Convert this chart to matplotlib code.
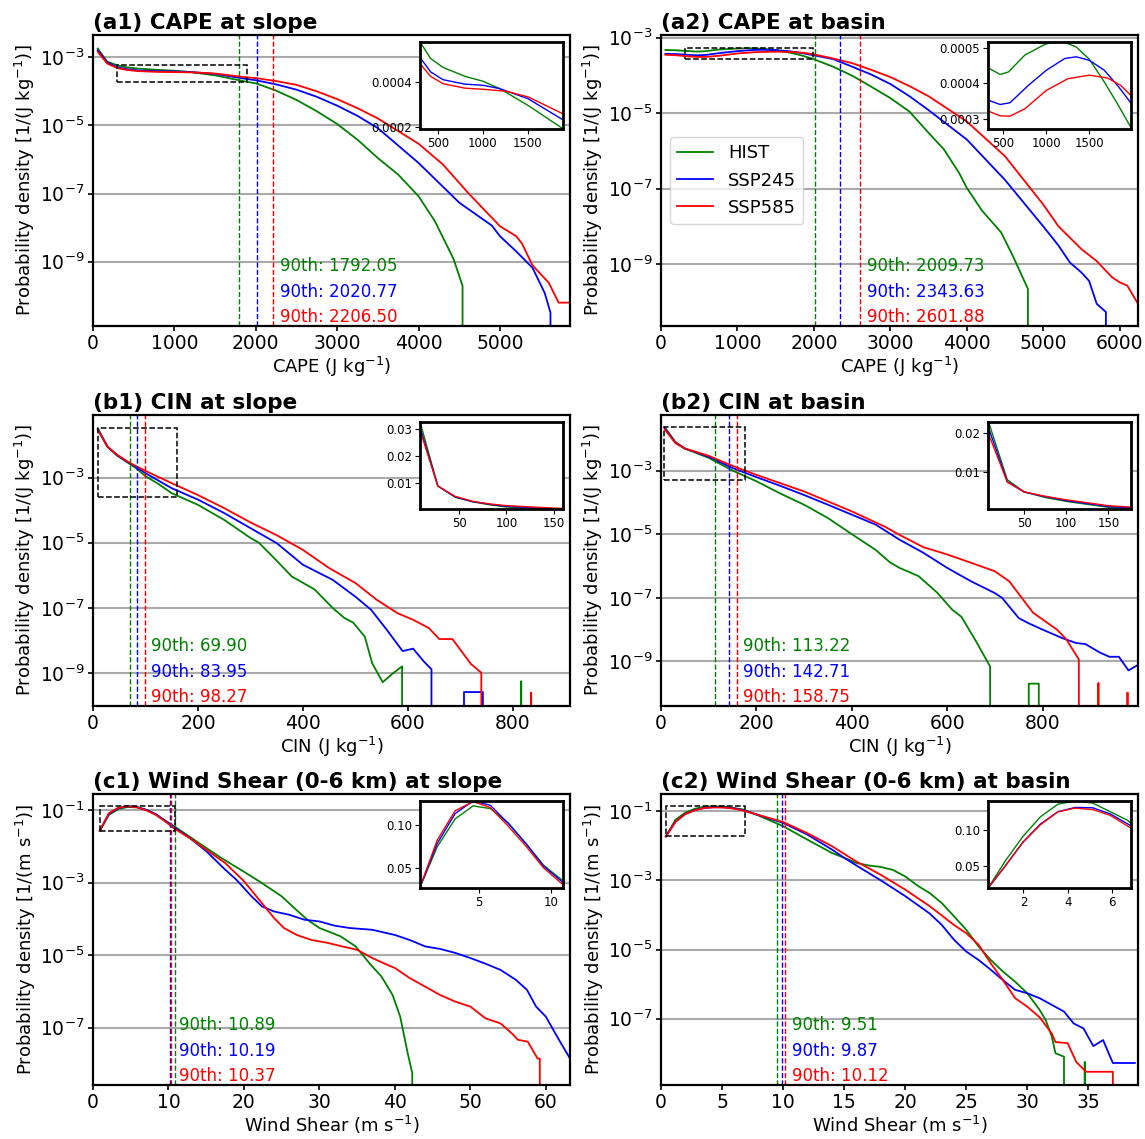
import numpy as np
import matplotlib
matplotlib.use("Agg")
import matplotlib.pyplot as plt
from matplotlib.patches import Rectangle
from matplotlib.ticker import NullLocator
from mpl_toolkits.axes_grid1.inset_locator import inset_axes

# ---------------- data ----------------
labels = ["HIST", "SSP245", "SSP585"]
colors = ["green", "blue", "red"]

# (a1) CAPE at slope
a1_x_hist = [58, 175, 300, 418, 556, 800, 1000, 1186, 1500, 1890, 2000, 2250, 2500, 2750, 3000, 3250, 3500, 3750, 4000, 4200, 4430, 4540, 4600]
a1_y_hist = [1.8e-3, 7.4e-4, 5.8e-4, 5.05e-4, 4.65e-4, 4.25e-4, 4.03e-4, 3.7e-4, 2.95e-4, 1.9e-4, 1.72e-4, 1.05e-4, 5.6e-5, 2.6e-5, 1.1e-5, 3.8e-6, 1.1e-6, 3.6e-7, 8.3e-8, 1.55e-8, 1.2e-9, 1.95e-10, 0]
a1_x_245 = [58, 175, 300, 418, 556, 800, 1000, 1186, 1500, 1890, 2000, 2250, 2500, 2750, 3000, 3250, 3500, 4000, 4500, 4900, 5000, 5200, 5400, 5550, 5620, 5680]
a1_y_245 = [1.6e-3, 7.0e-4, 5.1e-4, 4.45e-4, 4.1e-4, 3.9e-4, 3.85e-4, 3.7e-4, 3.25e-4, 2.3e-4, 2.12e-4, 1.6e-4, 1.12e-4, 6.9e-5, 3.8e-5, 1.9e-5, 8.3e-6, 7.9e-7, 5.4e-8, 1.15e-8, 5.6e-9, 2.0e-9, 6.6e-10, 1.2e-10, 3.2e-11, 0]
a1_x_585 = [58, 175, 300, 418, 556, 800, 1000, 1260, 1500, 1890, 2000, 2250, 2500, 2750, 3000, 3250, 3500, 4000, 4300, 4600, 5000, 5200, 5270, 5400, 5600, 5720, 5860]
a1_y_585 = [1.45e-3, 6.5e-4, 4.82e-4, 4.25e-4, 3.92e-4, 3.72e-4, 3.67e-4, 3.58e-4, 3.33e-4, 2.57e-4, 2.45e-4, 2.0e-4, 1.55e-4, 1.0e-4, 5.9e-5, 3.2e-5, 1.6e-5, 2.9e-6, 7.1e-7, 1.1e-7, 1.1e-8, 5.6e-9, 3.4e-9, 7.8e-10, 2.4e-10, 6.3e-11, 6.3e-11]
a1_p90 = [1792.05, 2020.77, 2206.50]

# (a2) CAPE at basin
a2_x_hist = [58, 200, 327, 462, 558, 750, 981, 1150, 1346, 1500, 1673, 1827, 1981, 2250, 2500, 2750, 3000, 3250, 3500, 3700, 3900, 4000, 4200, 4450, 4600, 4800, 4830]
a2_y_hist = [4.7e-4, 4.6e-4, 4.43e-4, 4.25e-4, 4.32e-4, 4.8e-4, 5.1e-4, 5.22e-4, 5.03e-4, 4.68e-4, 4.04e-4, 3.42e-4, 2.76e-4, 1.7e-4, 9.8e-5, 5.0e-5, 2.5e-5, 1.1e-5, 3.0e-6, 1.1e-6, 2.6e-7, 1.05e-7, 2.6e-8, 6.9e-9, 1.7e-9, 2.2e-10, 0]
a2_x_245 = [58, 200, 327, 462, 577, 789, 1000, 1212, 1346, 1500, 1673, 1827, 1981, 2250, 2500, 2750, 3000, 3250, 3500, 4000, 4500, 5000, 5100, 5200, 5350, 5500, 5600, 5700, 5820, 5840]
a2_y_245 = [3.7e-4, 3.65e-4, 3.52e-4, 3.4e-4, 3.45e-4, 3.94e-4, 4.37e-4, 4.7e-4, 4.75e-4, 4.65e-4, 4.37e-4, 3.94e-4, 3.45e-4, 2.7e-4, 1.7e-4, 1.05e-4, 5.9e-5, 2.8e-5, 1.2e-5, 2.0e-6, 1.7e-7, 1.0e-8, 5.6e-9, 3.1e-9, 1.1e-9, 6.0e-10, 3.6e-10, 8.9e-11, 5.4e-11, 0]
a2_x_585 = [58, 200, 327, 462, 577, 750, 1000, 1250, 1500, 1711, 1865, 1981, 2250, 2500, 2750, 3000, 3250, 3500, 4000, 4500, 5000, 5200, 5500, 5700, 5900, 6000, 6100, 6240]
a2_y_585 = [3.5e-4, 3.4e-4, 3.21e-4, 3.08e-4, 3.07e-4, 3.28e-4, 3.8e-4, 4.13e-4, 4.23e-4, 4.15e-4, 3.94e-4, 3.66e-4, 2.8e-4, 2.1e-4, 1.4e-4, 9.0e-5, 5.2e-5, 2.8e-5, 6.0e-6, 7.2e-7, 3.8e-8, 1.0e-8, 2.5e-9, 1.2e-9, 4.5e-10, 3.3e-10, 2.7e-10, 8.9e-11]
a2_p90 = [2009.73, 2343.63, 2601.88]

# (b1) CIN at slope
b1_x_hist = [9.2, 27.6, 46, 64.3, 82.6, 100, 125, 150, 200, 250, 300, 316, 350, 379, 422, 457, 479, 496, 518, 532, 552, 570, 589, 607, 798, 816, 835]
b1_y_hist = [0.032, 0.0089, 0.0047, 0.003, 0.0019, 1.1e-3, 6.3e-4, 3.3e-4, 1.45e-4, 5.0e-5, 1.4e-5, 1.0e-5, 2.8e-6, 9.1e-7, 3.7e-7, 9.8e-8, 4.9e-8, 3.5e-8, 1.3e-8, 2.0e-9, 5.2e-10, 9.3e-10, 1.6e-9, 0, 0, 5.6e-10, 0]
b1_x_245 = [9.2, 27.6, 46, 64.3, 82.6, 100, 150, 200, 250, 300, 350, 400, 457, 500, 530, 560, 590, 610, 630, 645, 652, 688, 707, 725, 743, 762]
b1_y_245 = [0.030, 0.0088, 0.0048, 0.0031, 0.0021, 1.36e-3, 4.7e-4, 2.1e-4, 8.1e-5, 2.8e-5, 9.7e-6, 2.1e-6, 7.2e-7, 2.2e-7, 8.7e-8, 2.1e-8, 4.7e-9, 5.6e-9, 2.3e-9, 1.3e-9, 0, 0, 2.6e-10, 2.6e-10, 2.6e-10, 0]
b1_x_585 = [9.2, 27.6, 46, 64.3, 82.6, 100, 150, 200, 250, 300, 350, 400, 450, 500, 540, 580, 610, 640, 660, 685, 720, 740, 744, 817, 835, 854, 890, 909]
b1_y_585 = [0.029, 0.0088, 0.005, 0.0032, 0.0022, 1.6e-3, 6.7e-4, 2.9e-4, 1.15e-4, 4.2e-5, 1.7e-5, 6.0e-6, 1.66e-6, 5.8e-7, 1.8e-7, 6.9e-8, 4.3e-8, 2.4e-8, 1.1e-8, 1.1e-8, 1.9e-9, 1.02e-9, 0, 0, 2.5e-10, 0, 0, 2.5e-10]
b1_p90 = [69.90, 83.95, 98.27]

# (b2) CIN at basin
b2_x_hist = [8, 30, 50, 75, 100, 150, 200, 250, 300, 350, 400, 450, 480, 500, 540, 580, 610, 630, 660, 690, 711, 750, 771, 792, 813]
b2_y_hist = [0.0225, 0.008, 0.0049, 0.0035, 0.0025, 1.0e-3, 4.6e-4, 1.9e-4, 8.4e-5, 3.2e-5, 1.0e-5, 3.2e-6, 1.3e-6, 8.7e-7, 4.8e-7, 1.4e-7, 4.3e-8, 2.5e-8, 4.4e-9, 6.9e-10, 0, 0, 2.0e-10, 2.0e-10, 0]
b2_x_245 = [8, 30, 50, 75, 100, 150, 200, 250, 300, 350, 400, 450, 500, 550, 600, 650, 700, 715, 750, 770, 800, 840, 870, 890, 920, 940, 960, 980, 1000]
b2_y_245 = [0.021, 0.0075, 0.0049, 0.0037, 0.0027, 1.2e-3, 6.2e-4, 3.3e-4, 1.7e-4, 8.4e-5, 4.1e-5, 2.0e-5, 6.7e-6, 2.6e-6, 8.7e-7, 3.3e-7, 1.4e-7, 1.0e-7, 2.3e-8, 1.6e-8, 1.0e-8, 5.5e-9, 3.8e-9, 3.5e-9, 1.9e-9, 1.4e-9, 1.4e-9, 5.2e-10, 7.8e-10]
b2_x_585 = [8, 30, 50, 75, 100, 150, 200, 250, 300, 350, 400, 470, 500, 550, 600, 650, 700, 730, 780, 830, 850, 876, 897, 917, 938, 957, 978, 999]
b2_y_585 = [0.0195, 0.0074, 0.0049, 0.0038, 0.0029, 1.4e-3, 7.3e-4, 4.0e-4, 2.2e-4, 1.07e-4, 5.2e-5, 1.7e-5, 9.5e-6, 3.9e-6, 2.3e-6, 1.26e-6, 6.8e-7, 3.3e-7, 3.4e-8, 1.0e-8, 4.9e-9, 1.15e-9, 0, 2.1e-10, 0, 0, 1.05e-10, 0]
b2_p90 = [113.22, 142.71, 158.75]

# (c1) Wind shear at slope
c1_x_hist = [0.9, 2.1, 3.35, 4.6, 5.8, 7.05, 8.3, 9.5, 10.8, 13, 15, 17, 20, 22, 25, 26.9, 28.4, 30, 32.8, 34.8, 36.8, 38.2, 39.7, 40.7, 41.7, 42.3, 42.4]
c1_y_hist = [0.027, 0.0746, 0.1074, 0.1227, 0.1195, 0.1027, 0.078, 0.0531, 0.0355, 0.0174, 9.1e-3, 4.8e-3, 2.0e-3, 1.1e-3, 4.2e-4, 1.8e-4, 9.5e-5, 5.6e-5, 3.3e-5, 1.74e-5, 5.4e-6, 2.6e-6, 7.9e-7, 2.0e-7, 1.95e-8, 5.5e-9, 0]
c1_x_245 = [0.9, 2.1, 3.35, 4.6, 5.8, 7.05, 8.3, 9.5, 10.8, 13, 15, 17.5, 19, 21, 22.4, 24, 26, 28, 30, 32, 34, 37, 40, 42, 44, 46, 48, 50, 52, 54, 56, 57.5, 58.7, 60, 61.5, 63.2]
c1_y_245 = [0.027, 0.0785, 0.1137, 0.1285, 0.1234, 0.102, 0.078, 0.052, 0.0336, 0.016, 7.4e-3, 2.3e-3, 1.2e-3, 4.2e-4, 2.2e-4, 1.6e-4, 1.3e-4, 9.5e-5, 8.5e-5, 6.5e-5, 5.6e-5, 5.0e-5, 3.6e-5, 2.6e-5, 1.74e-5, 1.48e-5, 1.15e-5, 8.3e-6, 5.8e-6, 3.9e-6, 2.1e-6, 1.1e-6, 3.8e-7, 2.0e-7, 5.6e-8, 1.4e-8]
c1_x_585 = [0.9, 2.1, 3.35, 4.6, 5.8, 7.05, 8.3, 9.5, 10.8, 13, 15, 17.5, 20, 22, 24, 25.3, 27, 29, 31, 33, 35, 37, 39, 40, 42, 44, 46, 48, 50, 52, 54, 55.5, 56.3, 57.6, 58.9, 59.2, 59.4]
c1_y_585 = [0.027, 0.0824, 0.117, 0.1277, 0.1207, 0.0988, 0.075, 0.05, 0.031, 0.016, 8.1e-3, 3.5e-3, 1.1e-3, 3.4e-4, 1.05e-4, 5.6e-5, 3.6e-5, 2.6e-5, 2.2e-5, 1.74e-5, 1.4e-5, 8.3e-6, 5.4e-6, 4.4e-6, 2.3e-6, 1.35e-6, 7.9e-7, 5.2e-7, 3.8e-7, 1.8e-7, 1.3e-7, 6.9e-8, 4.6e-8, 4.1e-8, 1.4e-8, 1.4e-8, 0]
c1_p90 = [10.89, 10.19, 10.37]

# (c2) Wind shear at basin
c2_x_hist = [0.4, 1.19, 1.98, 2.77, 3.56, 4.34, 5.13, 5.92, 6.71, 8, 10, 12, 14, 15, 16, 17, 18, 19, 20, 21, 22, 23, 24, 25, 26, 27, 28, 29, 30, 31, 31.5, 32, 32.3, 33.0, 33.8, 34.7, 35.5]
c2_y_hist = [0.0187, 0.057, 0.0907, 0.118, 0.1355, 0.14, 0.137, 0.125, 0.113, 0.075, 0.037, 0.015, 6.2e-3, 4.5e-3, 3.2e-3, 2.7e-3, 2.45e-3, 2.0e-3, 1.3e-3, 7.1e-4, 4.3e-4, 2.2e-4, 9.1e-5, 3.7e-5, 1.23e-5, 5.0e-6, 2.3e-6, 1.17e-6, 5.4e-7, 1.8e-7, 9.1e-8, 3.0e-8, 1.0e-8, 7.9e-9, 0, 5.6e-9, 0]
c2_x_245 = [0.4, 1.19, 1.98, 2.77, 3.56, 4.34, 5.13, 5.92, 6.71, 10, 12, 14, 15, 16, 18, 20, 22, 23, 24, 25, 26, 27, 28, 29, 30, 31, 32, 33, 33.8, 34.6, 35.4, 36.2, 37.0, 38.8]
c2_y_245 = [0.0187, 0.05, 0.0827, 0.108, 0.125, 0.131, 0.1305, 0.122, 0.108, 0.046, 0.021, 7.8e-3, 4.5e-3, 2.7e-3, 1.0e-3, 3.5e-4, 1.1e-4, 5.1e-5, 1.9e-5, 8.7e-6, 5.0e-6, 2.6e-6, 1.3e-6, 6.8e-7, 5.4e-7, 3.9e-7, 2.5e-7, 1.6e-7, 7.2e-8, 5.2e-8, 1.6e-8, 2.4e-8, 5.2e-9, 5.2e-9]
c2_x_585 = [0.4, 1.19, 1.98, 2.77, 3.56, 4.34, 5.13, 5.92, 6.71, 10, 12, 14, 16, 18, 20, 22, 24, 25, 26, 27, 28, 29, 30, 31, 32, 32.3, 33.3, 34, 34.8, 37.0, 37.8]
c2_y_585 = [0.0187, 0.05, 0.0827, 0.107, 0.125, 0.13, 0.128, 0.12, 0.105, 0.049, 0.023, 9.8e-3, 3.5e-3, 1.45e-3, 5.4e-4, 1.8e-4, 5.1e-5, 2.95e-5, 1.38e-5, 4.0e-6, 1.3e-6, 3.9e-7, 2.2e-7, 1.1e-7, 3.7e-8, 2.1e-8, 1.95e-8, 5.6e-9, 2.9e-9, 2.9e-9, 0]
c2_p90 = [9.51, 9.87, 10.12]

# ---------------- figure ----------------
fig = plt.figure(figsize=(11.45, 11.39), dpi=100)
W, H = 1145.0, 1139.0
col_left = [93 / W, 661 / W]
row_top = [35, 415, 794]
aw, ah = 477 / W, 291 / H

jkg = "J kg$^{-1}$"
ms = "m s$^{-1}$"
panels = [
    dict(title="(a1) CAPE at slope", xs=[a1_x_hist, a1_x_245, a1_x_585], ys=[a1_y_hist, a1_y_245, a1_y_585], p90=a1_p90,
         xlabel="CAPE (" + jkg + ")", unit=jkg, xlim=(0, 5860), ylim=(1.3e-11, 4.5e-3),
         xticks=[0, 1000, 2000, 3000, 4000, 5000], yticks=[1e-9, 1e-7, 1e-5, 1e-3],
         zx=(300, 1890), zy=(1.88e-4, 5.79e-4), ixt=[500, 1000, 1500], iyt=[0.0002, 0.0004], toff=0.016),
    dict(title="(a2) CAPE at basin", xs=[a2_x_hist, a2_x_245, a2_x_585], ys=[a2_y_hist, a2_y_245, a2_y_585], p90=a2_p90,
         xlabel="CAPE (" + jkg + ")", unit=jkg, xlim=(0, 6240), ylim=(2.3e-11, 1.17e-3),
         xticks=[0, 1000, 2000, 3000, 4000, 5000, 6000], yticks=[1e-9, 1e-7, 1e-5, 1e-3],
         zx=(320, 1985), zy=(2.7e-4, 5.17e-4), ixt=[500, 1000, 1500], iyt=[0.0003, 0.0004, 0.0005], toff=0.0155),
    dict(title="(b1) CIN at slope", xs=[b1_x_hist, b1_x_245, b1_x_585], ys=[b1_y_hist, b1_y_245, b1_y_585], p90=b1_p90,
         xlabel="CIN (" + jkg + ")", unit=jkg, xlim=(0, 909), ylim=(9.7e-11, 0.083),
         xticks=[0, 200, 400, 600, 800], yticks=[1e-9, 1e-7, 1e-5, 1e-3],
         zx=(8.7, 160), zy=(2.6e-4, 0.0325), ixt=[50, 100, 150], iyt=[0.01, 0.02, 0.03], toff=0.014),
    dict(title="(b2) CIN at basin", xs=[b2_x_hist, b2_x_245, b2_x_585], ys=[b2_y_hist, b2_y_245, b2_y_585], p90=b2_p90,
         xlabel="CIN (" + jkg + ")", unit=jkg, xlim=(0, 1000), ylim=(3.97e-11, 0.0556),
         xticks=[0, 200, 400, 600, 800], yticks=[1e-9, 1e-7, 1e-5, 1e-3],
         zx=(7, 177), zy=(5.0e-4, 0.0227), ixt=[50, 100, 150], iyt=[0.01, 0.02], toff=0.014),
    dict(title="(c1) Wind Shear (0-6 km) at slope", xs=[c1_x_hist, c1_x_245, c1_x_585], ys=[c1_y_hist, c1_y_245, c1_y_585], p90=c1_p90,
         xlabel="Wind Shear (" + ms + ")", unit=ms, xlim=(0, 63.2), ylim=(2.6e-9, 0.28),
         xticks=[0, 10, 20, 30, 40, 50, 60], yticks=[1e-7, 1e-5, 1e-3, 1e-1],
         zx=(0.9, 10.86), zy=(0.026, 0.1285), ixt=[5, 10], iyt=[0.05, 0.10], toff=0.007),
    dict(title="(c2) Wind Shear (0-6 km) at basin", xs=[c2_x_hist, c2_x_245, c2_x_585], ys=[c2_y_hist, c2_y_245, c2_y_585], p90=c2_p90,
         xlabel="Wind Shear (" + ms + ")", unit=ms, xlim=(0, 39.06), ylim=(1.2e-9, 0.316),
         xticks=[0, 5, 10, 15, 20, 25, 30, 35], yticks=[1e-7, 1e-5, 1e-3, 1e-1],
         zx=(0.4, 6.86), zy=(0.0187, 0.140), ixt=[2, 4, 6], iyt=[0.05, 0.10], toff=0.0146),
]

text_y = [0.205, 0.117, 0.03]

for k, p in enumerate(panels):
    r, c = divmod(k, 2)
    ax = fig.add_axes([col_left[c], 1 - (row_top[r] + 291) / H, aw, ah])
    ax.set_yscale("log", nonpositive="clip")
    for x, y, col, lab in zip(p["xs"], p["ys"], colors, labels):
        ax.plot(x, y, color=col, lw=1.3, label=lab)
    for v, col in zip(p["p90"], colors):
        ax.axvline(v, color=col, ls="--", lw=1.0)
    xt = max(p["p90"]) + p["toff"] * p["xlim"][1]
    for v, col, ty in zip(p["p90"], colors, text_y):
        ax.text(xt, ty, f"90th: {v:.2f}", color=col, fontsize=12, va="center", ha="left",
                transform=ax.get_xaxis_transform())
    x0, x1 = p["zx"]
    y0, y1 = p["zy"]
    ax.add_patch(Rectangle((x0, y0), x1 - x0, y1 - y0, fill=False, ls="--", lw=1.1, ec="black", zorder=5))
    ax.set_xlim(*p["xlim"])
    ax.set_ylim(*p["ylim"])
    ax.set_xticks(p["xticks"])
    ax.set_yticks(p["yticks"])
    ax.yaxis.set_minor_locator(NullLocator())
    ax.tick_params(labelsize=13.5, width=1.2, pad=2.5)
    ax.grid(axis="y", which="major", color="#aaaaaa", lw=1.5)
    ax.set_axisbelow(True)
    for s in ax.spines.values():
        s.set_linewidth(1.6)
    ax.set_title(p["title"], loc="left", fontweight="bold", fontsize=15.5, pad=4)
    ax.set_xlabel(p["xlabel"], fontsize=13, labelpad=1)
    ax.set_ylabel("Probability density [1/(" + p["unit"] + ")]", fontsize=13, labelpad=2)
    if k == 1:
        ax.legend(loc="center left", fontsize=13)

    ins = inset_axes(ax, width="30%", height="30%", loc="upper right")
    for x, y, col in zip(p["xs"], p["ys"], colors):
        ins.plot(x, y, color=col, lw=1.0)
    ins.set_xlim(x0, x1)
    ins.set_ylim(y0, y1)
    ins.set_xticks(p["ixt"])
    ins.set_yticks(p["iyt"])
    ins.tick_params(labelsize=8.5, pad=2)
    for s in ins.spines.values():
        s.set_linewidth(2.0)

fig.savefig("out.png", dpi=100)
